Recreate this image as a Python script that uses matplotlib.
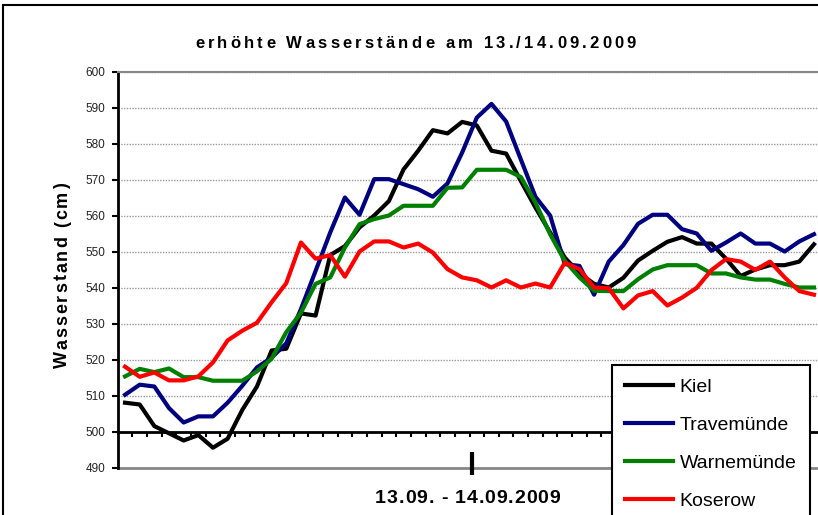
import matplotlib
matplotlib.use('Agg')
import matplotlib.pyplot as plt
import numpy as np
from matplotlib.font_manager import FontProperties
from matplotlib.transforms import IdentityTransform
from matplotlib.patches import Rectangle

# hourly water levels, 13.09. - 14.09.2009 (cm)
hours = np.arange(48)
kiel = [508, 507.5, 501.5, 499.5, 497.5, 499, 495.5, 498, 506, 512.5, 522.5, 523,
        532.8, 532.2, 549, 551.5, 556.7, 560, 564, 572.8, 578, 583.7, 582.8, 586,
        585, 578, 577.2, 569.6, 562.2, 555.3, 548.3, 544, 541, 540, 542.7, 547.5,
        550.2, 552.7, 554, 552.2, 552.2, 548, 543.2, 545, 546.2, 546.2, 547.2, 552]
travemuende = [510.2, 513, 512.5, 506.5, 502.5, 504.2, 504.2, 508, 512.7, 517.8, 520.5, 524.5,
               534, 544.6, 555.3, 565, 560.2, 570.1, 570.1, 568.7, 567.3, 565.2, 568.9, 577.5,
               587.2, 591, 586.1, 575.6, 565.2, 560, 546.5, 546, 538, 547.2, 551.8, 557.7,
               560.2, 560.2, 556.2, 555, 550.2, 552.5, 555, 552.2, 552.2, 550, 552.8, 554.8]
warnemuende = [515.3, 517.4, 516.5, 517.5, 515.1, 515.1, 514.1, 514.1, 514.1, 516.7, 520.2, 527.6,
               533, 541, 542.8, 551.1, 557.6, 559, 560, 562.7, 562.7, 562.7, 567.7, 567.8,
               572.7, 572.7, 572.7, 570.7, 563.6, 554.8, 547.4, 542.8, 539.1, 539, 539, 542.3,
               545, 546.2, 546.2, 546.2, 543.9, 543.9, 542.8, 542.2, 542.2, 541, 540, 540]
koserow = [518, 515.2, 516.4, 514.2, 514.2, 515.3, 519.2, 525.3, 528, 530.2, 535.9, 541.2,
           552.5, 548, 549, 543, 550, 552.8, 552.8, 551.1, 552.2, 549.7, 545.1, 542.8,
           542, 540, 542, 540, 541.1, 540, 546.9, 545.1, 540, 539.8, 534.2, 537.8,
           539, 535, 537.2, 539.9, 544.8, 547.9, 547.2, 544.9, 547.2, 542.8, 539, 538]
stations = ['Kiel', 'Travemünde', 'Warnemünde', 'Koserow']
colors = ['#000000', '#000080', '#008000', '#ff0000']
yticks = np.arange(490, 601, 10)
day_mark = 23.65  # where the date label's long tick sits

W, H = 818, 515
plt.rcParams['font.family'] = ['Liberation Sans', 'DejaVu Sans']

fig = plt.figure(figsize=(W / 100, H / 100), dpi=100, facecolor='white')
ax = fig.add_axes([117.7 / W, 1 - 467.5 / H, 703.6 / W, 396 / H])

for vals, name, c in zip([kiel, travemuende, warnemuende, koserow], stations, colors):
    ax.plot(hours, vals, color=c, lw=3, label=name, zorder=3)

ax.set_xlim(-0.5, 47.5)
ax.set_ylim(490, 600)
ax.set_yticks(yticks)
ax.set_xticks(np.arange(0.5, 47, 1))
ax.tick_params(axis='x', direction='out', length=3.5, width=1.5, labelbottom=False)
ax.tick_params(axis='y', direction='out', length=4, width=1.5, labelsize=8.5, pad=5)
for lab in ax.get_yticklabels():
    lab.set_color('#222222')
ax.yaxis.grid(True, color='#999999', linestyle=(0, (1, 1)), lw=1)
ax.set_axisbelow(True)

ax.spines['left'].set_linewidth(2)
ax.spines['bottom'].set_position(('data', 500))
ax.spines['bottom'].set_linewidth(2)
ax.spines['bottom'].set_zorder(4)
ax.spines['top'].set_color('#888888')
ax.spines['top'].set_linewidth(1.5)
ax.spines['right'].set_visible(False)
ax.axhline(490, color='#888888', lw=2, clip_on=False)
ax.vlines(day_mark, 487.9, 494.3, color='black', lw=3, clip_on=False)

leg = ax.legend(loc='upper left', bbox_to_anchor=(612.3 / W, 1 - 365 / H),
                bbox_transform=fig.transFigure, borderaxespad=0, fontsize=14,
                handlelength=2.45, handletextpad=0.35, labelspacing=1.055,
                borderpad=0.67, fancybox=False, framealpha=1, edgecolor='black')
leg.get_frame().set_linewidth(1.5)


def spaced(s, x, y, width, size, rotation=0):
    # spread letters over width px like the original (x, y = centre/baseline, from top)
    fp = FontProperties(family='Liberation Sans', weight='bold', size=size)
    r = fig.canvas.get_renderer()

    def tw(t):
        return r.get_text_width_height_descent(t, fp, ismath=False)[0]
    ws = [tw('x' + ch + 'x') - tw('xx') if ch == ' ' else tw(ch) for ch in s]
    gap = (width - sum(ws)) / (len(s) - 1)
    pos = -width / 2
    for ch, w in zip(s, ws):
        off = pos + w / 2
        if rotation:
            px, py = x, H - y + off
        else:
            px, py = x + off, H - y
        fig.text(px, py, ch, fontproperties=fp, rotation=rotation, rotation_mode='anchor',
                 ha='center', va='baseline', transform=IdentityTransform())
        pos += w + gap


spaced('erhöhte Wasserstände am 13./14.09.2009', 415.5, 48.5, 441, 12)
spaced('13.09. - 14.09.2009', 467.5, 503.3, 185, 14)
spaced('Wasserstand (cm)', 67, 275.5, 185, 13, rotation=90)

# outer chart border (right and bottom lie outside the picture)
fig.add_artist(Rectangle((3, -10), 900, H - 5 + 10, transform=IdentityTransform(),
                         fill=False, lw=1.5, ec='black'))

fig.savefig('out.png', dpi=100)
